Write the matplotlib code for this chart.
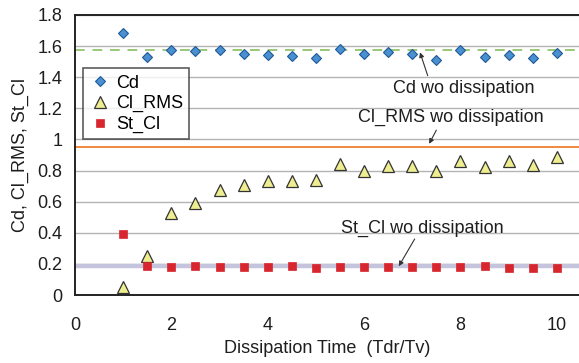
import matplotlib
matplotlib.use("Agg")
import matplotlib.pyplot as plt

plt.rcParams["font.family"] = ["Liberation Sans", "DejaVu Sans"]

# Dissipation time (Tdr/Tv)
dissipation_time = [1.0, 1.5, 2.0, 2.5, 3.0, 3.5, 4.0, 4.5, 5.0, 5.5,
                    6.0, 6.5, 7.0, 7.5, 8.0, 8.5, 9.0, 9.5, 10.0]
cd = [1.686, 1.530, 1.572, 1.566, 1.572, 1.549, 1.545, 1.534, 1.521, 1.583,
      1.551, 1.561, 1.551, 1.512, 1.572, 1.530, 1.545, 1.525, 1.557]
cl_rms = [0.05, 0.248, 0.526, 0.593, 0.678, 0.706, 0.730, 0.736, 0.741, 0.844,
          0.800, 0.828, 0.828, 0.800, 0.860, 0.820, 0.860, 0.833, 0.886]
st_cl = [0.393, 0.185, 0.183, 0.185, 0.179, 0.180, 0.177, 0.185, 0.175, 0.177,
         0.180, 0.180, 0.180, 0.180, 0.183, 0.187, 0.174, 0.175, 0.174]

# reference values without dissipation
cd_ref = 1.577
cl_rms_ref = 0.95
st_cl_ref = 0.185

x_ticks = [0, 2, 4, 6, 8, 10]
y_ticks = [0, 0.2, 0.4, 0.6, 0.8, 1.0, 1.2, 1.4, 1.6, 1.8]
y_tick_labels = ["0", "0.2", "0.4", "0.6", "0.8", "1", "1.2", "1.4", "1.6", "1.8"]

FS = 13
TXT = "#1e1e1e"

fig = plt.figure(figsize=(5.79, 3.63), dpi=100)
ax = fig.add_axes([75 / 579, 68 / 363, 1 - 75 / 579, 280 / 363])

# horizontal grid
for yv in y_ticks[1:]:
    ax.axhline(yv, color="#b4b4b4", linewidth=1.0, zorder=0)

# reference lines
ax.axhline(st_cl_ref, color="#c4c4dc", linewidth=3.2, zorder=1)
ax.axhline(cl_rms_ref, color="#f0883c", linewidth=1.4, zorder=1)
ax.axhline(cd_ref, color="#98c878", linewidth=1.4, linestyle=(0, (5, 4)), zorder=1)

ax.plot(dissipation_time, cd, linestyle="none", marker="D", markersize=5.5,
        markerfacecolor="#4a90d0", markeredgecolor="#1f5a96", markeredgewidth=0.8,
        label="Cd", zorder=3)
ax.plot(dissipation_time, cl_rms, linestyle="none", marker="^", markersize=8,
        markerfacecolor="#eeee90", markeredgecolor="#333333", markeredgewidth=0.9,
        label="Cl_RMS", zorder=3)
ax.plot(dissipation_time, st_cl, linestyle="none", marker="s", markersize=5.5,
        markerfacecolor="#d8262e", markeredgecolor="#d8262e", markeredgewidth=0.5,
        label="St_Cl", zorder=4)

# annotations
arrow = dict(arrowstyle="-|>", color="#333333", linewidth=0.8, mutation_scale=7,
             shrinkA=0, shrinkB=0)
ax.annotate("", xy=(7.16, 1.56), xytext=(7.32, 1.41), arrowprops=arrow)
ax.text(8.06, 1.33, "Cd wo dissipation", ha="center", va="center", fontsize=FS,
        color=TXT)
ax.annotate("", xy=(7.35, 0.972), xytext=(7.5, 1.06), arrowprops=arrow)
ax.text(7.79, 1.14, "Cl_RMS wo dissipation", ha="center", va="center", fontsize=FS,
        color=TXT)
ax.annotate("", xy=(6.72, 0.185), xytext=(7.05, 0.36), arrowprops=arrow)
ax.text(7.2, 0.43, "St_Cl wo dissipation", ha="center", va="center", fontsize=FS,
        color=TXT)

ax.set_xlim(0, 10.46)
ax.set_ylim(0, 1.8)
ax.set_xticks(x_ticks)
ax.set_yticks(y_ticks)
ax.set_yticklabels(y_tick_labels)
ax.tick_params(axis="both", labelsize=FS, length=0, colors=TXT)
ax.tick_params(axis="y", pad=9)
ax.tick_params(axis="x", pad=16)

for side in ["left", "bottom", "top"]:
    ax.spines[side].set_color("#222222")
    ax.spines[side].set_linewidth(1.4)
ax.spines["right"].set_visible(False)

ax.set_xlabel("Dissipation Time  (Tdr/Tv)", fontsize=FS, color=TXT, labelpad=4)
ax.set_ylabel("Cd, Cl_RMS, St_Cl", fontsize=FS, color=TXT, labelpad=6)

leg = ax.legend(loc="upper left", bbox_to_anchor=(0.015, 0.81), fontsize=FS,
                frameon=True, fancybox=False, borderpad=0.35, labelspacing=0.2,
                handletextpad=0.3, handlelength=1.2, borderaxespad=0)
leg.get_frame().set_edgecolor("#333333")
leg.get_frame().set_linewidth(1.2)

fig.savefig("out.png", dpi=100)
